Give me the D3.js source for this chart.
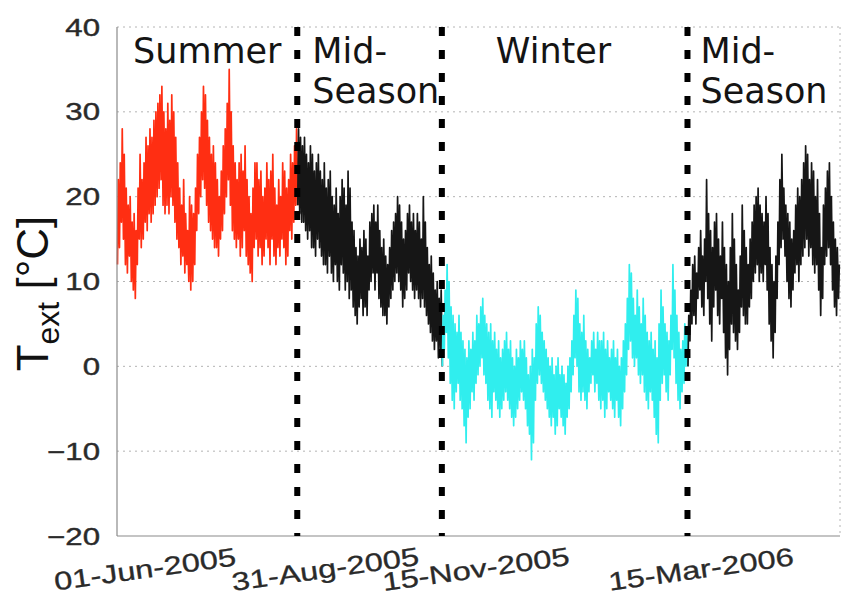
<!DOCTYPE html>
<html><head><meta charset="utf-8">
<script src="https://cdn.jsdelivr.net/npm/d3@7"></script>
<style>body{margin:0;background:#fff;} svg{display:block;}</style>
</head><body><svg id="c" width="844" height="601"></svg>
<script>
// ---------- data ----------
const startDate = "2005-06-01";
const endDate = "2006-06-01";
const yTicks = [-20, -10, 0, 10, 20, 30, 40];
const xTickDates = ["2005-06-01", "2005-08-31", "2005-11-15", "2006-03-15"];
const xTickLabels = ["01-Jun-2005", "31-Aug-2005", "15-Nov-2005", "15-Mar-2006"];
const boundaryDates = ["2005-08-31", "2005-11-12", "2006-03-16"];
const seasonNames = [["Summer"], ["Mid-", "Season"], ["Winter"], ["Mid-", "Season"]];
const seasonColors = ["#ff2e12", "#161616", "#30eeee", "#161616"];
const yLabelMain = "T", yLabelSub = "ext", yLabelUnit = " [°C]";

// daily maxima / minima, °C
const summerHi = [22,24,28,25,21,19,20,17,18,16, 21,25,22,24,27,26,28,27,29,30,
  31,32,33,30,28,31,29,32,30,27, 24,21,19,22,18,16,20,19,18,21,
  25,27,30,33,32,29,27,25,26,24, 22,20,23,26,28,31,35,30,26,24,
  22,24,25,23,26,22,20,18,21,24, 24,22,23,20,21,24,22,23,25,21,
  19,22,20,24,23,21,22,25,24,26,28];
const summerLo = [12,14,17,15,12,11,13,10,9,8, 12,15,14,15,17,16,18,17,18,19,
  20,21,22,19,18,19,18,20,19,17, 15,14,12,13,11,12,10,9,10,12,
  16,18,20,22,21,19,17,16,15,14, 14,13,15,16,18,20,22,19,16,15,
  14,15,13,14,16,13,12,11,10,14, 15,13,14,12,13,15,14,12,15,13,
  12,14,13,15,14,12,13,16,15,17,19];
const mid1Hi = [28,27,26,27,25,24,26,25,23,24, 25,23,22,24,21,22,23,20,19,21,
  18,20,22,21,19,23,21,17,16,14, 13,15,14,16,15,13,17,18,19,17,
  19,16,14,15,13,12,14,16,17,18, 20,19,17,15,16,18,19,17,18,16,
  18,17,15,20,17,14,12,13,11,9, 10,8,9];
const mid1Lo = [19,18,17,17,16,15,16,14,14,13, 15,14,13,12,12,11,13,11,10,12,
  10,9,12,11,9,10,8,9,7,6, 5,7,8,6,7,6,9,10,11,9,
  11,8,7,6,6,5,7,8,9,10, 11,10,9,7,8,9,11,10,9,8,
  9,8,7,8,7,6,5,4,3,2, 3,1,2];
const winterHi = [6,9,12,10,7,6,5,4,6,4, 3,2,1,3,2,4,3,6,5,7,
  8,6,5,4,5,3,4,2,3,1, 2,3,4,2,3,1,0,2,1,3,
  2,3,1,-1,0,2,1,5,7,6, 4,3,2,1,0,1,-1,0,1,-1,
  0,-1,-2,0,1,3,6,9,8,5, 4,6,3,2,1,3,4,2,4,3,
  3,4,2,3,1,2,3,1,2,0, 1,3,5,8,12,11,8,6,9,7,
  5,8,6,4,3,4,2,3,1,5, 9,7,5,4,3,6,12,9,6,4,
  2,3,5,4];
const winterLo = [0,2,4,1,-2,-4,-5,-3,-2,-4, -5,-7,-9,-6,-5,-3,-4,-2,-1,0,
  1,-1,-2,-4,-5,-6,-3,-4,-5,-6, -5,-4,-3,-4,-5,-6,-7,-6,-5,-4,
  -3,-4,-5,-7,-8,-11,-9,-4,-2,-1, -2,-3,-4,-5,-6,-7,-6,-8,-7,-5,
  -6,-7,-8,-6,-5,-3,-1,1,0,-3, -4,-3,-4,-5,-3,-2,-1,-3,-2,-4,
  -5,-4,-6,-5,-3,-4,-5,-6,-4,-6, -7,-5,-3,-1,2,3,1,0,1,-1,
  -2,-1,-3,-4,-5,-3,-4,-6,-8,-9, -4,-2,-1,-3,-4,-1,2,1,-2,-4,
  -5,-3,-2,0];
const mid2Hi = [6,9,12,13,11,14,16,13,15,22, 18,16,14,17,18,15,13,17,14,12,
  10,14,18,15,12,9,13,19,16,14, 12,15,17,19,20,21,19,18,17,20,
  18,14,12,10,13,17,22,25,21,19, 18,17,15,16,19,21,20,22,24,26,
  25,22,24,23,20,22,18,14,19,21, 23,24,20,17,15,14,12];
const mid2Lo = [0,3,5,6,5,8,9,7,6,10, 8,5,3,7,9,6,5,8,4,1,
  -1,2,5,4,3,2,4,7,6,5, 5,7,8,10,11,12,10,11,10,12,
  9,5,3,1,4,8,12,14,15,13, 10,8,7,9,11,12,10,12,13,14,
  15,13,14,12,11,12,9,6,8,12, 13,14,12,9,7,6,8];

const seasonHi = [summerHi, mid1Hi, winterHi, mid2Hi];
const seasonLo = [summerLo, mid1Lo, winterLo, mid2Lo];

// ---------- chart ----------
const W = 844, H = 601;
const L = 117, R = 840, T = 27, B = 536;
const svg = d3.select("#c");
svg.append("rect").attr("width", W).attr("height", H).attr("fill", "#fff");

const parse = d3.utcParse("%Y-%m-%d");
const t0 = parse(startDate);
const x = d3.scaleUtc().domain([t0, parse(endDate)]).range([L, R]);
const y = d3.scaleLinear().domain([-20, 40]).range([B, T]);
const DAY = 86400000;
const dayDate = d => new Date(t0.getTime() + d * DAY);

// grid (dotted)
svg.append("g").selectAll("line").data(yTicks.filter(v => v > -20))
  .join("line")
  .attr("x1", L).attr("x2", R).attr("y1", d => y(d)).attr("y2", d => y(d))
  .attr("stroke", "#b4b4b4").attr("stroke-width", 1).attr("stroke-dasharray", "2,4");
svg.append("line").attr("x1", R).attr("x2", R).attr("y1", T).attr("y2", B)
  .attr("stroke", "#b4b4b4").attr("stroke-width", 1).attr("stroke-dasharray", "2,4");

// data lines
let offset = 0;
const lineGen = d3.line().x(p => x(dayDate(p.t))).y(p => y(p.v));
const seasons = seasonHi.map((hi, s) => {
  const lo = seasonLo[s];
  const pts = [];
  hi.forEach((h, i) => {
    pts.push({t: offset + i + 0.25, v: lo[i]});
    pts.push({t: offset + i + 0.65, v: h});
  });
  const res = {pts, start: offset};
  offset += hi.length;
  return res;
});
seasons.forEach((s, i) => {
  const pts = s.pts.slice();
  if (i < seasons.length - 1) pts.push(seasons[i + 1].pts[0]);
  svg.append("path").datum(pts)
    .attr("d", lineGen)
    .attr("fill", "none")
    .attr("stroke", seasonColors[i])
    .attr("stroke-width", 1.7)
    .attr("stroke-linejoin", "round");
});

// axes box (solid left / bottom)
svg.append("line").attr("x1", L).attr("x2", L).attr("y1", T).attr("y2", B)
  .attr("stroke", "#8a8a8a").attr("stroke-width", 1.2);
svg.append("line").attr("x1", L).attr("x2", R).attr("y1", B).attr("y2", B)
  .attr("stroke", "#8a8a8a").attr("stroke-width", 1.2);

// season boundary lines
svg.append("g").selectAll("line").data(boundaryDates).join("line")
  .attr("x1", d => x(parse(d))).attr("x2", d => x(parse(d)))
  .attr("y1", T).attr("y2", B)
  .attr("stroke", "#000").attr("stroke-width", 6)
  .attr("stroke-dasharray", "9,14");

// season labels
const bx = boundaryDates.map(d => x(parse(d)));
const labelX = [L + 16, bx[0] + 15, bx[1] + 54, bx[2] + 13];
seasonNames.forEach((lines, i) => {
  const t = svg.append("text")
    .attr("font-family", "DejaVu Sans").attr("font-size", 35).attr("fill", "#141414");
  lines.forEach((ln, k) => {
    t.append("tspan").attr("x", labelX[i]).attr("y", 63 + k * 40).text(ln);
  });
});

// y tick labels
const fmt = d3.format("d");
svg.append("g").selectAll("text").data(yTicks).join("text")
  .attr("transform", d => `translate(100,${y(d) + 8.5}) scale(1.3,1)`)
  .attr("text-anchor", "end")
  .attr("font-family", "Liberation Sans, Arial, sans-serif")
  .attr("font-size", 24).attr("fill", "#2a2a2a")
  .attr("stroke", "#2a2a2a").attr("stroke-width", 0.4)
  .text(d => fmt(d));

// x tick labels (rotated)
svg.append("g").selectAll("text").data(xTickDates).join("text")
  .attr("transform", (d, i) => {
    const cx = Math.min(x(parse(d)) + 28, W - 143);
    return `translate(${cx},569) rotate(-8) scale(1.28,1)`;
  })
  .attr("text-anchor", "middle").attr("dy", "0.35em")
  .attr("font-family", "Liberation Sans, Arial, sans-serif")
  .attr("font-size", 25.5).attr("fill", "#2a2a2a")
  .attr("stroke", "#2a2a2a").attr("stroke-width", 0.3)
  .text((d, i) => xTickLabels[i]);

// y axis label
const yl = svg.append("text")
  .attr("transform", `translate(48,${(T + B) / 2 + 12}) rotate(-90)`)
  .attr("text-anchor", "middle")
  .attr("font-family", "Liberation Sans, Arial, sans-serif")
  .attr("font-size", 44).attr("fill", "#111");
yl.append("tspan").text(yLabelMain);
yl.append("tspan").attr("font-size", 32).attr("dy", 11).text(yLabelSub);
yl.append("tspan").attr("dy", -11).text(yLabelUnit);
</script>
</body></html>
